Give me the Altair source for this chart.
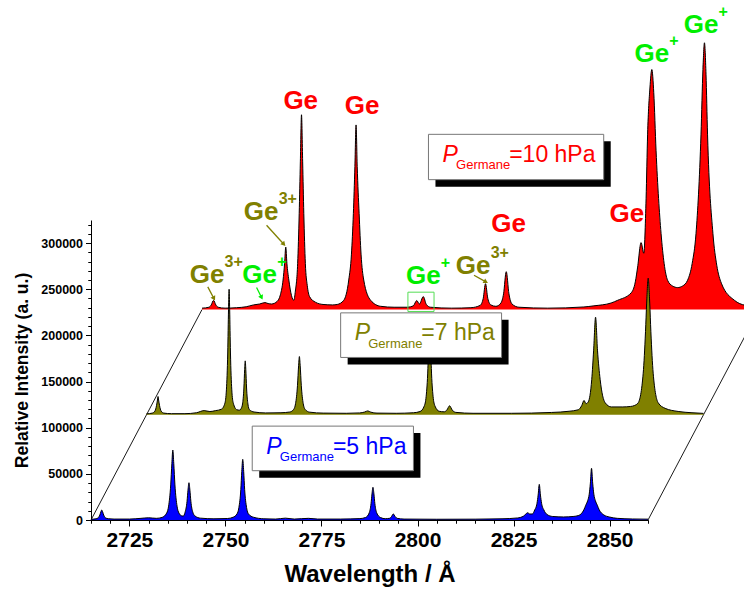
import math
import altair as alt
import pandas as pd

# Plot geometry (data units)
X0, X1 = 2715, 2860          # wavelength range of every spectrum, Å
Y0, Y1 = 0, 325000           # intensity axis range
DX = 14.45                   # horizontal shift per stacked spectrum, Å
DY = 114000                  # vertical shift per stacked spectrum
W, H = 557, 300

RED = "#ff0000"
OLIVE = "#808000"
BLUE = "#0000ff"
GREEN = "#00ee00"
FONT = "Liberation Sans"

# Emission spectra (wavelength Å, relative intensity), one per germane pressure
BLUE_5HPA = [
    (2715.0, 800), (2716.3, 1300), (2716.8, 2200), (2717.3, 5400), (2717.55, 8600),
    (2717.8, 10800), (2718.05, 8600), (2718.3, 5400), (2718.8, 2200), (2719.5, 1400),
    (2721.0, 1000), (2725.0, 1000), (2728.0, 1800), (2730.0, 2400), (2732.0, 1800),
    (2733.5, 2800), (2734.7, 7500), (2735.2, 15000), (2735.75, 38000), (2736.05, 61000),
    (2736.3, 75800), (2736.55, 61000), (2736.85, 38000), (2737.4, 15000), (2737.9, 7500),
    (2738.6, 4500), (2739.0, 4200), (2739.5, 8500), (2740.0, 20200), (2740.25, 32300),
    (2740.5, 40400), (2740.75, 32300), (2741.0, 20200), (2741.5, 8500), (2742.1, 4300),
    (2743.5, 2000), (2747.0, 1300), (2750.5, 1600), (2752.0, 3000), (2753.0, 6500),
    (2753.5, 13500), (2754.0, 33000), (2754.25, 52500), (2754.5, 65700), (2754.75, 52500),
    (2755.0, 33000), (2755.5, 13500), (2756.0, 6500), (2757.3, 3000), (2760.0, 1300),
    (2763.0, 1000), (2765.6, 2000), (2768.0, 1000), (2771.6, 1800), (2774.0, 1000),
    (2780.0, 1000), (2785.0, 1500), (2786.5, 2800), (2787.4, 7500), (2787.9, 17700),
    (2788.15, 28300), (2788.4, 35400), (2788.65, 28300), (2788.9, 17700), (2789.4, 7500),
    (2790.4, 2600), (2791.6, 1400), (2792.8, 1900), (2793.2, 3600), (2793.7, 6500),
    (2794.2, 3600), (2794.7, 1800), (2796.5, 1000), (2805.0, 800), (2815.0, 900),
    (2822.0, 1300), (2826.0, 2200), (2827.6, 4200), (2828.2, 6500), (2828.7, 7900),
    (2829.2, 6500), (2829.9, 6500), (2830.5, 10800), (2831.1, 18000), (2831.4, 27000),
    (2831.7, 38600), (2832.0, 27000), (2832.3, 18000), (2832.9, 10800), (2833.7, 6000),
    (2835.2, 3800), (2838.0, 3300), (2840.5, 3800), (2842.0, 5000), (2843.3, 11000),
    (2843.8, 16000), (2844.3, 21000), (2844.7, 28000), (2845.0, 40000), (2845.3, 56000),
    (2845.6, 40000), (2845.9, 28000), (2846.3, 21000), (2846.8, 16000), (2847.3, 11000),
    (2848.5, 5500), (2850.0, 3200), (2852.0, 1800), (2856.0, 1100), (2860.0, 900),
]

OLIVE_7HPA = [
    (2715.0, 1000), (2716.5, 1800), (2717.2, 4000), (2717.6, 9900), (2717.85, 16000),
    (2718.0, 19800), (2718.15, 16000), (2718.4, 9900), (2718.8, 4000), (2719.5, 1800),
    (2721.5, 1200), (2725.0, 1200), (2728.0, 2200), (2730.0, 4500), (2731.5, 3500),
    (2733.0, 4500), (2734.5, 6000), (2735.4, 12500), (2735.8, 27000), (2736.15, 68000),
    (2736.35, 114000), (2736.5, 136000), (2736.65, 114000), (2736.85, 68000), (2737.2, 27000),
    (2737.6, 12500), (2738.5, 5500), (2739.2, 5000), (2739.6, 6500), (2740.0, 11700),
    (2740.35, 29000), (2740.55, 49000), (2740.7, 58400), (2740.85, 49000), (2741.05, 29000),
    (2741.4, 11700), (2741.8, 5500), (2743.0, 3000), (2746.0, 2000), (2750.0, 2200),
    (2752.3, 3000), (2753.3, 5800), (2753.8, 12000), (2754.3, 31500), (2754.6, 53600),
    (2754.8, 63100), (2755.0, 53600), (2755.3, 31500), (2755.8, 12000), (2756.3, 5800),
    (2757.5, 2800), (2761.0, 1800), (2767.0, 1600), (2770.5, 2000), (2771.8, 3000),
    (2772.6, 4200), (2773.4, 2800), (2775.0, 1800), (2780.0, 1600), (2784.5, 2200),
    (2786.2, 3500), (2787.3, 9400), (2787.8, 20000), (2788.25, 50000), (2788.5, 83500),
    (2788.7, 100000), (2788.9, 83500), (2789.15, 50000), (2789.6, 20000), (2790.1, 9400),
    (2791.2, 3800), (2792.5, 3200), (2793.2, 5200), (2793.9, 9700), (2794.6, 5000),
    (2795.5, 2600), (2800.0, 1600), (2810.0, 1600), (2820.4, 2500), (2825.0, 3800),
    (2827.4, 5400), (2828.3, 10000), (2828.9, 15500), (2829.4, 12000), (2830.0, 14000),
    (2830.9, 38000), (2831.4, 70000), (2831.9, 105700), (2832.4, 70000), (2833.1, 38000),
    (2834.4, 13000), (2836.0, 8500), (2839.0, 8500), (2841.0, 9000), (2842.0, 10000),
    (2843.0, 13000), (2844.3, 45000), (2844.9, 90000), (2845.2, 121000), (2845.6, 148000),
    (2846.0, 121000), (2846.3, 90000), (2846.9, 45000), (2848.2, 13000), (2850.0, 7000),
    (2853.4, 3600), (2857.0, 2200), (2860.0, 1500),
]

RED_10HPA = [
    (2715.0, 1500), (2716.8, 2500), (2717.4, 5000), (2718.0, 10000), (2718.6, 5000),
    (2719.2, 2500), (2721.0, 1500), (2724.0, 2000), (2726.5, 3000), (2728.4, 5000),
    (2730.0, 6000), (2731.4, 7500), (2732.2, 6500), (2733.1, 6000), (2734.6, 9000),
    (2735.4, 16000), (2736.1, 32000), (2736.5, 50000), (2736.8, 67700), (2737.1, 50000),
    (2737.6, 32000), (2738.3, 15000), (2738.9, 10000), (2739.3, 20000), (2739.9, 50000),
    (2740.3, 104000), (2740.6, 160000), (2740.9, 211000), (2741.2, 160000), (2741.5, 104000),
    (2741.9, 50000), (2742.4, 26000), (2743.0, 14000), (2744.5, 8000), (2746.5, 5500),
    (2749.0, 5000), (2750.2, 5500), (2751.9, 10000), (2753.2, 32000), (2753.9, 60000),
    (2754.4, 104000), (2754.8, 155000), (2755.1, 200000), (2755.4, 155000), (2755.9, 104000),
    (2756.4, 60000), (2757.1, 32000), (2758.9, 10000), (2761.5, 3500), (2765.0, 2500),
    (2768.5, 2500), (2770.0, 4000), (2770.9, 9700), (2771.6, 6000), (2772.6, 14000),
    (2773.4, 5500), (2774.5, 2500), (2780.0, 1500), (2785.0, 2000), (2787.4, 4500),
    (2788.2, 12000), (2788.8, 28000), (2789.4, 12000), (2790.2, 5000), (2791.5, 3500),
    (2792.8, 7000), (2793.5, 17000), (2794.2, 41000), (2794.9, 17000), (2795.7, 6000),
    (2797.5, 2500), (2805.0, 1500), (2814.4, 2800), (2817.0, 4000), (2821.5, 7100),
    (2823.2, 10000), (2826.7, 18000), (2827.8, 30000), (2828.4, 46000), (2829.3, 72500),
    (2830.0, 61000), (2830.6, 120000), (2831.0, 190000), (2831.6, 240000), (2832.1, 260000),
    (2832.6, 235000), (2833.2, 172000), (2834.5, 82500), (2835.3, 50000), (2836.2, 31700),
    (2837.5, 25500), (2838.8, 23800), (2840.1, 25500), (2841.4, 31700), (2842.6, 50000),
    (2843.6, 82500), (2844.9, 190000), (2845.4, 260000), (2845.8, 289000), (2846.2, 255000),
    (2846.6, 190000), (2848.0, 82500), (2849.0, 48000), (2850.2, 28500), (2853.6, 10000),
    (2856.4, 4600), (2860.0, 3000),
]

# Line identifications: anchor (x, y) in plot units, ion
ION_LABELS = [
    (2769.6, 445600, "Ge"), (2785.6, 440200, "Ge"), (2759.3, 325400, "Ge3+"),
    (2745.2, 256800, "Ge3+"), (2758.9, 256800, "Ge+"), (2801.5, 256200, "Ge+"),
    (2814.5, 266200, "Ge3+"), (2823.7, 312000, "Ge"), (2854.5, 322900, "Ge"),
    (2861.0, 496000, "Ge+"), (2873.8, 527400, "Ge+"),
]
# Pointer arrows: start, end, ion
ION_ARROWS = [
    (2760.7, 319300, 2765.2, 298700, "Ge3+"),
    (2745.4, 252500, 2747.0, 239900, "Ge3+"),
    (2758.1, 251800, 2759.4, 241000, "Ge+"),
    (2814.7, 265200, 2817.8, 257900, "Ge3+"),
]
# Frame around the weak Ge+ doublet of the 10 hPa spectrum
GE_PLUS_FRAME = [(2797.5, 2804.3, 246800, 225900)]
# Pressure tags: pressure, left, right, top, bottom
PRESSURE_TAGS = [
    ("10", 2802.85, 2848.47, 417800, 368700),
    ("7", 2779.99, 2821.88, 224400, 176100),
    ("5", 2756.97, 2798.94, 101700, 53400),
]
TAG_COLOURS = {"10": RED, "7": OLIVE, "5": BLUE}

X_MAJOR = list(range(2725, X1 + 1, 25))
X_MINOR = list(range(X0, X1 + 1, 5))
Y_MAJOR = list(range(Y0, 300001, 50000))
Y_MINOR = list(range(Y0, Y1 + 1, 10000))

ions = alt.Scale(domain=["Ge", "Ge+", "Ge3+"], range=[RED, GREEN, OLIVE])
xs = alt.Scale(domain=[X0, X1], nice=False, zero=False)
ys = alt.Scale(domain=[Y0, Y1], nice=False, zero=False)


def stacked(points, level):
    df = pd.DataFrame(points, columns=["wl", "inten"])
    df["xp"] = df["wl"] + level * DX
    df["yp"] = df["inten"] + level * DY
    df["base"] = level * DY
    return df


# Major axes (labelled) and minor-tick axes drawn on top of each other
x_major = alt.Axis(
    orient="bottom", title="Wavelength / Å", values=X_MAJOR, format="d", tickSize=6,
    labelFontSize=21, titleFontSize=24, labelPadding=3, titlePadding=12,
    labelOverlap=False, labelFlush=False,
)
y_major = alt.Axis(
    orient="left", title="Relative Intensity (a. u.)", values=Y_MAJOR, format="d",
    tickSize=5.5, labelFontSize=12.5, titleFontSize=17.5, labelPadding=3, titlePadding=9,
    labelOverlap=False, labelFlush=False,
)
x_minor = alt.Axis(orient="bottom", title=None, values=X_MINOR, tickSize=3,
                   labels=False, domain=False)
y_minor = alt.Axis(orient="left", title=None, values=Y_MINOR, tickSize=3,
                   labels=False, domain=False)

# Slanted edges of the stacking floor
floor = pd.DataFrame({
    "xa": [X0, X1], "ya": [0, 0],
    "xb": [X0 + 2 * DX, X1 + 2 * DX], "yb": [2 * DY, 2 * DY],
})
floor_layer = alt.Chart(floor).mark_rule(color="black", strokeWidth=0.9).encode(
    x=alt.X("xa:Q", scale=xs, axis=x_major),
    y=alt.Y("ya:Q", scale=ys, axis=y_major),
    x2="xb:Q", y2="yb:Q",
)


def spectrum(points, level, colour, axes=False):
    base = alt.Chart(stacked(points, level)).encode(
        x=alt.X("xp:Q", scale=xs, axis=x_minor if axes else None),
        y=alt.Y("yp:Q", scale=ys, axis=y_minor if axes else None),
    )
    area = base.mark_area(color=colour, interpolate="monotone").encode(y2="base:Q")
    line = base.mark_line(color="black", strokeWidth=1, interpolate="monotone")
    return [area, line]


layers = [floor_layer]
layers += spectrum(RED_10HPA, 2, RED, axes=True)
layers += spectrum(OLIVE_7HPA, 1, OLIVE)
layers += spectrum(BLUE_5HPA, 0, BLUE)

frame = pd.DataFrame(GE_PLUS_FRAME, columns=["l", "r", "t", "b"])
layers.append(
    alt.Chart(frame).mark_rect(fill=None, stroke="#55dd55", strokeWidth=1).encode(
        x=alt.X("l:Q", scale=xs, axis=None), x2="r:Q",
        y=alt.Y("t:Q", scale=ys, axis=None), y2="b:Q",
    )
)

# Arrows
px_per_a = W / (X1 - X0)
px_per_i = H / (Y1 - Y0)
arrows = pd.DataFrame(ION_ARROWS, columns=["x1", "y1", "x2", "y2", "ion"])
arrows["ang"] = [
    math.degrees(math.atan2((r.x2 - r.x1) * px_per_a, (r.y2 - r.y1) * px_per_i)) % 360
    for r in arrows.itertuples()
]
layers.append(
    alt.Chart(arrows).mark_rule(strokeWidth=1.3).encode(
        x=alt.X("x1:Q", scale=xs, axis=None), x2="x2:Q",
        y=alt.Y("y1:Q", scale=ys, axis=None), y2="y2:Q",
        color=alt.Color("ion:N", scale=ions, legend=None),
    )
)
layers.append(
    alt.Chart(arrows).mark_point(shape="triangle-up", filled=True, size=28, opacity=1).encode(
        x=alt.X("x2:Q", scale=xs, axis=None),
        y=alt.Y("y2:Q", scale=ys, axis=None),
        angle=alt.Angle("ang:Q", scale=None),
        color=alt.Color("ion:N", scale=ions, legend=None),
    )
)

# Ion labels with charge superscripts
labels = pd.DataFrame(ION_LABELS, columns=["lx", "ly", "ion"])
labels["sup"] = labels["ion"].str[2:]
lab_base = alt.Chart(labels).encode(
    x=alt.X("lx:Q", scale=xs, axis=None),
    y=alt.Y("ly:Q", scale=ys, axis=None),
    color=alt.Color("ion:N", scale=ions, legend=None),
)
layers.append(
    lab_base.mark_text(text="Ge", font=FONT, fontSize=26, fontWeight="bold",
                       align="center", baseline="alphabetic")
)
layers.append(
    lab_base.mark_text(font=FONT, fontSize=16, fontWeight="bold", align="left",
                       baseline="alphabetic", dx=17.5, dy=-16).encode(text="sup:N")
)

# Pressure tags with drop shadow
tags = pd.DataFrame(PRESSURE_TAGS, columns=["p", "l", "r", "t", "b"])
tags["rest"] = "=" + tags["p"] + " hPa"
tags["col"] = tags["p"].map(TAG_COLOURS)
tag_base = alt.Chart(tags).encode(
    x=alt.X("l:Q", scale=xs, axis=None),
    y=alt.Y("t:Q", scale=ys, axis=None),
)
layers.append(
    tag_base.mark_rect(color="black", xOffset=7, x2Offset=7, yOffset=7, y2Offset=7)
    .encode(x2="r:Q", y2="b:Q")
)
layers.append(
    tag_base.mark_rect(fill="white", stroke="#777777", strokeWidth=1)
    .encode(x2="r:Q", y2="b:Q")
)
text_colour = alt.Color("col:N", scale=None)
layers.append(
    tag_base.mark_text(text="P", font=FONT, fontSize=23, fontStyle="italic",
                       align="left", baseline="alphabetic", dx=14, dy=27.5)
    .encode(color=text_colour)
)
layers.append(
    tag_base.mark_text(text="Germane", font=FONT, fontSize=13, align="left",
                       baseline="alphabetic", dx=27.6, dy=35)
    .encode(color=text_colour)
)
layers.append(
    tag_base.mark_text(font=FONT, fontSize=23, align="left",
                       baseline="alphabetic", dx=80.7, dy=27.5)
    .encode(text="rest:N", color=text_colour)
)

chart = (
    alt.layer(*layers)
    .resolve_axis(x="independent", y="independent")
    .properties(
        width=W, height=H,
        padding={"left": 91, "top": 220, "right": 96, "bottom": 69},
        autosize=alt.AutoSizeParams(type="none"),
        background="white",
    )
    .configure_view(stroke=None)
    .configure_axis(
        domainColor="black", tickColor="black", labelColor="black", titleColor="black",
        labelFont=FONT, titleFont=FONT, labelFontWeight="bold", titleFontWeight="bold",
        grid=False, domainWidth=1, tickWidth=1,
    )
)

chart.save("out.html", embed_options={"renderer": "svg", "actions": False})
